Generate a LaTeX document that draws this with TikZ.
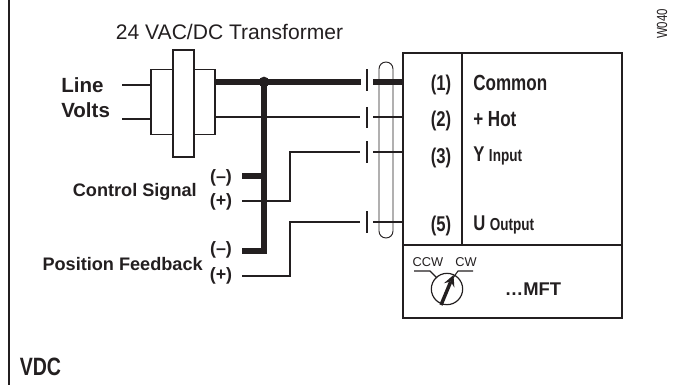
\documentclass[tikz,border=0pt]{standalone}
\usepackage{fontspec}
\setmainfont{Liberation Sans}
\newfontfamily\narrowfont[FakeStretch=0.78]{Liberation Sans}
\usepackage{xcolor}
\definecolor{inkc}{HTML}{231F20}
\begin{document}
\begin{tikzpicture}[x=0.75pt, y=-0.75pt, >=stealth, node distance=27.2pt, color=inkc, text=inkc]
        \tikzstyle{wire}=[line width=0.8pt]
        \tikzstyle{bus}=[line width=4.2pt]
        \tikzstyle{boxed}=[draw, line width=1.1pt, fill=white, inner sep=0pt]
        \tikzstyle{tick}=[inner sep=0pt, minimum width=0pt, minimum height=15.5pt]
        \tikzstyle{lab}=[font=\bfseries\fontsize{13.6}{15}\selectfont, inner sep=0pt]
        \tikzstyle{term}=[font=\narrowfont\bfseries\fontsize{16}{18}\selectfont, inner sep=0pt]
        \tikzstyle{sign}=[font=\bfseries\fontsize{13.4}{15}\selectfont, inner sep=0pt]
        \useasboundingbox (0,0) rectangle (679,385);
        \coordinate (frt) at (9,0);
        \coordinate (frb) at (9,385);
        \draw[line width=1.6pt] (frt) -- (frb);
        \node[font=\fontsize{15.8}{18}\selectfont, inner sep=0pt] (title) at (229.5,32) {24 VAC/DC Transformer};
        \node[font=\narrowfont\fontsize{11}{13}\selectfont, rotate=90, inner sep=0pt] (code) at (662,24) {W040};
        % transformer
        \node[boxed, minimum width=48pt, minimum height=48.5pt] (coil) at (183,102) {};
        \node[boxed, minimum width=16pt, minimum height=80pt] (core) at (183.5,103.5) {};
        \coordinate (lva) at (122,85);
        \coordinate (lvb) at (122,119);
        \draw[wire] (lva) -- (lva -| coil.west);
        \draw[wire] (lvb) -- (lvb -| coil.west);
        \node[lab, font=\bfseries\fontsize{15.4}{17}\selectfont, anchor=west] (line) at (61,85) {Line};
        \node[lab, font=\bfseries\fontsize{15.4}{17}\selectfont, anchor=west] (volts) at (61,110) {Volts};
        % terminal box
        \node[boxed, fill=none, minimum width=164.25pt, minimum height=198.75pt] (main) at (512.5,185.5) {};
        \coordinate (divl) at (403,245);
        \draw[line width=1.1pt] (divl) -- (divl -| main.east);
        \coordinate (divt) at (462,53);
        \draw[wire] (divt) -- (divt |- divl);
        \node[term] (ta) at (441,85) {(1)};
        \node[term, below of=ta] (tb) {(2)};
        \node[term, below of=tb] (tc) {(3)};
        \node[term, below of=tc, yshift=-24.5pt] (te) {(5)};
        \node[term, anchor=west, font=\narrowfont\bfseries\fontsize{16.4}{18}\selectfont] (common) at (473,83) {Common};
        \node[term, anchor=west, font=\narrowfont\bfseries\fontsize{16.4}{18}\selectfont] (hot) at (473,119) {+ Hot};
        \node[term, anchor=west] (yin) at (473,156) {Y {\fontsize{13}{15}\selectfont Input}};
        \node[term, anchor=west] (uout) at (473,225) {U {\fontsize{13}{15}\selectfont Output}};
        % loop and breaks
        \node[draw, line width=0.7pt, rounded corners=5.2pt, inner sep=0pt, minimum width=10.5pt, minimum height=132pt] (loop) at (386,150) {};
        \node[tick] (ka) at (367,80) {};
        \node[tick] (kb) at (367,117.5) {};
        \node[tick] (kc) at (367,152) {};
        \node[tick] (kd) at (367,222) {};
        \foreach \k in {ka,kb,kc,kd}
            \draw[wire] (\k.north) -- (\k.south);
        \coordinate (wa) at (367,82);
        \coordinate (wb) at (367,117);
        \draw[bus, shorten >=4.5pt] (coil.east |- wa) -- (wa);
        \draw[bus, shorten <=4.5pt] (wa) -- (wa -| main.west);
        \draw[wire, shorten >=5pt] (coil.east |- wb) -- (wb);
        \draw[wire, shorten <=4.5pt] (wb) -- (wb -| main.west);
        \draw[wire, shorten <=4.5pt] (kc) -- (kc -| main.west);
        \draw[wire, shorten <=4.5pt] (kd) -- (kd -| main.west);
        % signal wiring
        \coordinate (node) at (264,82);
        \fill (node) circle (4pt);
        \coordinate (sma) at (242,176);
        \coordinate (smb) at (242,251);
        \coordinate (spa) at (242,201);
        \coordinate (spb) at (242,276);
        \coordinate (risa) at (290,201);
        \coordinate (risb) at (290,276);
        \draw[bus] (sma) -- (sma -| node);
        \draw[bus, line join=miter] (node) -- (node |- smb) -- (smb);
        \draw[wire, shorten >=5pt] (spa) -- (risa) |- (kc);
        \draw[wire, shorten >=5pt] (spb) -- (risb) |- (kd);
        \node[sign] (mna) at (221,178) {(–)};
        \node[sign] (psa) at (221,202) {(+)};
        \node[sign] (mnb) at (221,250) {(–)};
        \node[sign] (psb) at (221,276) {(+)};
        \node[lab, anchor=east] (ctrl) at (197,192) {Control Signal};
        \node[lab, anchor=east] (pos) at (203,264) {Position Feedback};
        % dial
        \node[draw, circle, line width=0.9pt, minimum size=23.5pt, inner sep=0pt] (dial) at (447,289) {};
        \node[font=\fontsize{9.6}{11}\selectfont, inner sep=0pt] (ccw) at (428,262) {CCW};
        \node[font=\fontsize{9.6}{11}\selectfont, inner sep=0pt] (cw) at (466,262) {CW};
        \coordinate (ccwa) at (414,271);
        \coordinate (ccwb) at (430,271);
        \coordinate (ccwc) at (437,278);
        \coordinate (cwa) at (473,271);
        \coordinate (cwb) at (458,271);
        \coordinate (cwc) at (453,278);
        \draw[wire] (ccwa) -- (ccwb) -- (ccwc);
        \draw[wire] (cwa) -- (cwb) -- (cwc);
        \coordinate (ptra) at (441,305);
        \coordinate (ptrb) at (453.5,275);
        \draw[->, line width=2.6pt] (ptra) -- (ptrb);
        \node[lab, font=\bfseries\fontsize{13.8}{15}\selectfont] (mft) at (533,289) {…MFT};
        \node[font=\narrowfont\bfseries\fontsize{18.8}{21}\selectfont, inner sep=0pt, anchor=west] (vdc) at (19.5,367) {VDC};
    \end{tikzpicture}
\end{document}
